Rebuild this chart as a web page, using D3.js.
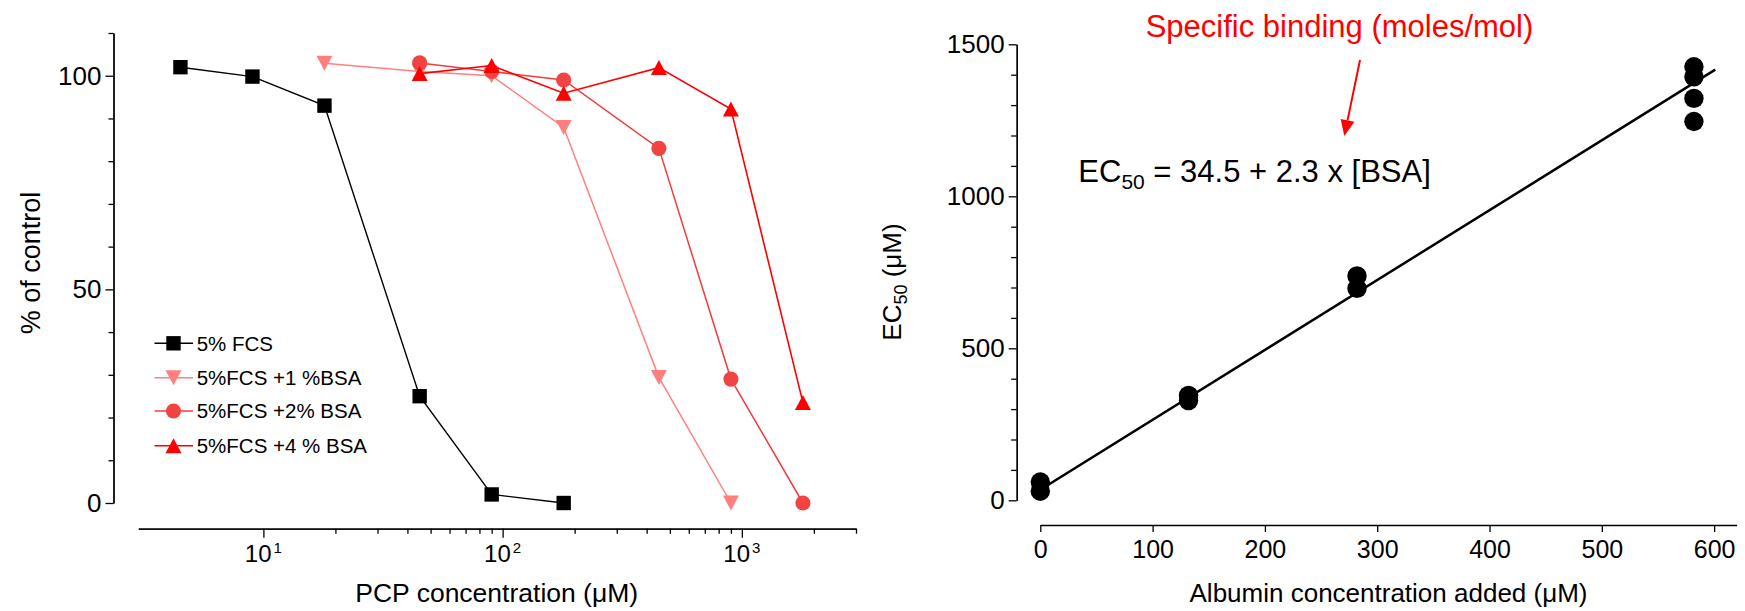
<!DOCTYPE html>
<html>
<head>
<meta charset="utf-8">
<script src="https://cdn.jsdelivr.net/npm/d3@7"></script>
<style>
  body { margin: 0; background: #fff; }
  svg { display: block; }
  text { font-family: "Liberation Sans", Arial, Helvetica, sans-serif; fill: #000; }
</style>
</head>
<body>
<svg id="chart" width="1745" height="611"></svg>
<script>
// ---------- Left panel: cell viability vs PCP concentration ----------
const fcsConc  = [4.5, 9, 18, 45, 90, 180];
const fcsViab  = [102, 99.8, 93, 25, 2, 0];
const bsa1Conc = [18, 45, 90, 180, 450, 900];
const bsa1Viab = [102.9, 101, 100, 87.9, 29.4, 0];
const bsa2Conc = [45, 90, 180, 450, 900, 1800];
const bsa2Viab = [103, 101, 99, 83, 29, 0];
const bsa4Conc = [45, 90, 180, 450, 900, 1800];
const bsa4Viab = [100.5, 102.4, 95.9, 101.9, 92.2, 23.5];
const seriesNames = ["5% FCS", "5%FCS +1 %BSA", "5%FCS +2% BSA", "5%FCS +4 % BSA"];

const concMajorTicks = [10, 100, 1000];
const concMinorTicks = [20, 30, 40, 50, 60, 70, 80, 90, 200, 300, 400, 500, 600, 700, 800, 900, 2000, 3000];
const viabMajorTicks = [0, 50, 100];
const viabMinorTicks = [10, 20, 30, 40, 60, 70, 80, 90, 110];

// ---------- Right panel: EC50 vs albumin added ----------
const albuminAdded = [0, 0, 132, 132, 282, 282, 582, 582, 582, 582];
const ec50Values   = [60, 30, 345, 328, 738, 697, 1426, 1393, 1322, 1246];
const fitIntercept = 34.5;
const fitSlope = 2.3;
const fitSpan = [0, 601];
const albTicks = [0, 100, 200, 300, 400, 500, 600];
const ecMajorTicks = [0, 500, 1000, 1500];
const ecMinorTicks = [100, 200, 300, 400, 600, 700, 800, 900, 1100, 1200, 1300, 1400];

const svg = d3.select("#chart");
const plain = d3.format("d");

// ===== Left panel =====
const xL = d3.scaleLog().domain([3, 3000]).range([138.3, 856]);
const yL = d3.scaleLinear().domain([0, 110]).range([503, 33]);
const yAxisXL = 113.5, xAxisYL = 528.7;

const styleAxis = g => {
  g.selectAll("path.domain").attr("stroke", "#000").attr("stroke-width", 1.3);
  g.selectAll(".tick line").attr("stroke", "#000").attr("stroke-width", 1.3);
};

// y axis (left panel)
svg.append("g").attr("transform", `translate(${yAxisXL},0)`)
  .call(d3.axisLeft(yL).tickValues(viabMinorTicks).tickSize(5).tickSizeOuter(0).tickFormat(""))
  .call(styleAxis);
const gyl = svg.append("g").attr("transform", `translate(${yAxisXL},0)`)
  .call(d3.axisLeft(yL).tickValues(viabMajorTicks).tickSize(8).tickSizeOuter(0).tickPadding(4).tickFormat(plain))
  .call(styleAxis);
gyl.selectAll(".tick text").attr("font-size", 26).attr("font-family", null).attr("fill", "#000");

// x axis (left panel, log)
svg.append("g").attr("transform", `translate(0,${xAxisYL})`)
  .call(d3.axisBottom(xL).tickValues(concMinorTicks).tickSize(5).tickSizeOuter(0).tickFormat(""))
  .call(styleAxis);
svg.append("g").attr("transform", `translate(0,${xAxisYL})`)
  .call(d3.axisBottom(xL).tickValues(concMajorTicks).tickSize(9).tickSizeOuter(0).tickFormat(""))
  .call(styleAxis);

// power-of-ten labels
concMajorTicks.forEach(v => {
  const t = svg.append("text").attr("x", xL(v)).attr("y", 561.7)
    .attr("text-anchor", "middle").attr("font-size", 24);
  t.append("tspan").text("10");
  t.append("tspan").attr("font-size", 15).attr("dx", 2).attr("dy", -8.7)
    .text(String(Math.round(Math.log10(v))));
});

// axis titles (left panel)
svg.append("text").attr("x", 496.7).attr("y", 602).attr("text-anchor", "middle")
  .attr("font-size", 26.5).text("PCP concentration (μM)");
svg.append("text").attr("transform", "translate(40,263) rotate(-90)")
  .attr("text-anchor", "middle").attr("font-size", 27).text("% of control");

// marker shapes, centred on their bounding box
function markerPath(shape) {
  switch (shape) {
    case "square": { const s = 7.2; return `M${-s},${-s}H${s}V${s}H${-s}Z`; }
    case "down":   { const w = 8, h = 7.5; return `M${-w},${-h}L${w},${-h}L0,${h}Z`; }
    case "up":     { const w = 8, h = 7.5; return `M0,${-h}L${w},${h}L${-w},${h}Z`; }
    case "circle": { const r = 7.6; return `M${r},0A${r},${r} 0 1,1 ${-r},0A${r},${r} 0 1,1 ${r},0Z`; }
  }
}

const seriesLeft = [
  { name: seriesNames[0], xs: fcsConc,  ys: fcsViab,  shape: "square", line: "#000000", fill: "#000000", lw: 1.4 },
  { name: seriesNames[1], xs: bsa1Conc, ys: bsa1Viab, shape: "down",   line: "#ff8080", fill: "#ff7f7f", lw: 1.5 },
  { name: seriesNames[2], xs: bsa2Conc, ys: bsa2Viab, shape: "circle", line: "#f23c3c", fill: "#f24343", lw: 1.5 },
  { name: seriesNames[3], xs: bsa4Conc, ys: bsa4Viab, shape: "up",     line: "#ff0000", fill: "#ff0000", lw: 1.6 }
];

const lineGen = d3.line().x(d => xL(d[0])).y(d => yL(d[1]));

// draw series from least to most prominent
[1, 2, 3, 0].forEach(i => {
  const s = seriesLeft[i];
  const pts = s.xs.map((x, k) => [x, s.ys[k]]);
  svg.append("path").datum(pts).attr("d", lineGen)
    .attr("fill", "none").attr("stroke", s.line).attr("stroke-width", s.lw);
  svg.append("g").selectAll("path").data(pts).join("path")
    .attr("transform", d => `translate(${xL(d[0])},${yL(d[1])})`)
    .attr("d", markerPath(s.shape)).attr("fill", s.fill);
});

// legend
const legendRowsY = [343.3, 377.7, 411, 445.7];
seriesLeft.forEach((s, i) => {
  const g = svg.append("g").attr("transform", `translate(0,${legendRowsY[i]})`);
  g.append("line").attr("x1", 154.5).attr("x2", 193).attr("y1", 0).attr("y2", 0)
    .attr("stroke", s.line).attr("stroke-width", s.lw);
  g.append("path").attr("transform", "translate(173.5,0)").attr("d", markerPath(s.shape)).attr("fill", s.fill);
  g.append("text").attr("x", 196.7).attr("y", 7.3).attr("font-size", 20.5).text(s.name);
});

// ===== Right panel =====
const xR = d3.scaleLinear().domain([0, 620]).range([1040.3, 1736.6]);
const yR = d3.scaleLinear().domain([0, 1500]).range([500.3, 44.3]);
const yAxisXR = 1016.7, xAxisYR = 525;

svg.append("g").attr("transform", `translate(${yAxisXR},0)`)
  .call(d3.axisLeft(yR).tickValues(ecMinorTicks).tickSize(5.5).tickSizeOuter(0).tickFormat(""))
  .call(styleAxis);
const gyr = svg.append("g").attr("transform", `translate(${yAxisXR},0)`)
  .call(d3.axisLeft(yR).tickValues(ecMajorTicks).tickSize(8).tickSizeOuter(0).tickPadding(4).tickFormat(plain))
  .call(styleAxis);
gyr.selectAll(".tick text").attr("font-size", 26).attr("font-family", null).attr("fill", "#000");

const gxr = svg.append("g").attr("transform", `translate(0,${xAxisYR})`)
  .call(d3.axisBottom(xR).tickValues(albTicks).tickSize(7).tickSizeOuter(0).tickPadding(8).tickFormat(plain))
  .call(styleAxis);
gxr.selectAll(".tick text").attr("font-size", 25).attr("font-family", null).attr("fill", "#000");

// fitted line
svg.append("line")
  .attr("x1", xR(fitSpan[0])).attr("y1", yR(fitIntercept + fitSlope * fitSpan[0]))
  .attr("x2", xR(fitSpan[1])).attr("y2", yR(fitIntercept + fitSlope * fitSpan[1]))
  .attr("stroke", "#000").attr("stroke-width", 2.5);

// measured EC50 values
svg.append("g").selectAll("circle").data(albuminAdded.map((x, i) => [x, ec50Values[i]])).join("circle")
  .attr("cx", d => xR(d[0])).attr("cy", d => yR(d[1])).attr("r", 9.7).attr("fill", "#000");

// axis titles (right panel)
svg.append("text").attr("x", 1388.5).attr("y", 601.7).attr("text-anchor", "middle")
  .attr("font-size", 26).text("Albumin concentration added (μM)");
const yTitleR = svg.append("text").attr("transform", "translate(901,282) rotate(-90)")
  .attr("text-anchor", "middle").attr("font-size", 26);
yTitleR.append("tspan").text("EC");
yTitleR.append("tspan").attr("font-size", 18).attr("dy", 6).text("50");
yTitleR.append("tspan").attr("dy", -6).text(" (μM)");

// regression equation
const eq = svg.append("text").attr("x", 1078.3).attr("y", 181.7).attr("font-size", 31);
eq.append("tspan").text("EC");
eq.append("tspan").attr("font-size", 21).attr("dy", 7.6).text("50");
eq.append("tspan").attr("dy", -7.6).text(` = ${fitIntercept} + ${fitSlope} x [BSA]`);

// annotation with arrow
svg.append("text").attr("x", 1339.5).attr("y", 36.7).attr("text-anchor", "middle")
  .attr("font-size", 31).style("fill", "#ff0000").text("Specific binding (moles/mol)");
const arrowFrom = [1360, 60], arrowTip = [1344.3, 136];
const ang = Math.atan2(arrowTip[1] - arrowFrom[1], arrowTip[0] - arrowFrom[0]);
const headLen = 16, headHalf = 7;
const bx = arrowTip[0] - headLen * Math.cos(ang), by = arrowTip[1] - headLen * Math.sin(ang);
svg.append("line").attr("x1", arrowFrom[0]).attr("y1", arrowFrom[1]).attr("x2", bx).attr("y2", by)
  .attr("stroke", "#ff0000").attr("stroke-width", 2);
svg.append("path")
  .attr("d", `M${arrowTip[0]},${arrowTip[1]}L${bx + headHalf * Math.sin(ang)},${by - headHalf * Math.cos(ang)}L${bx - headHalf * Math.sin(ang)},${by + headHalf * Math.cos(ang)}Z`)
  .attr("fill", "#ff0000");
</script>
</body>
</html>
